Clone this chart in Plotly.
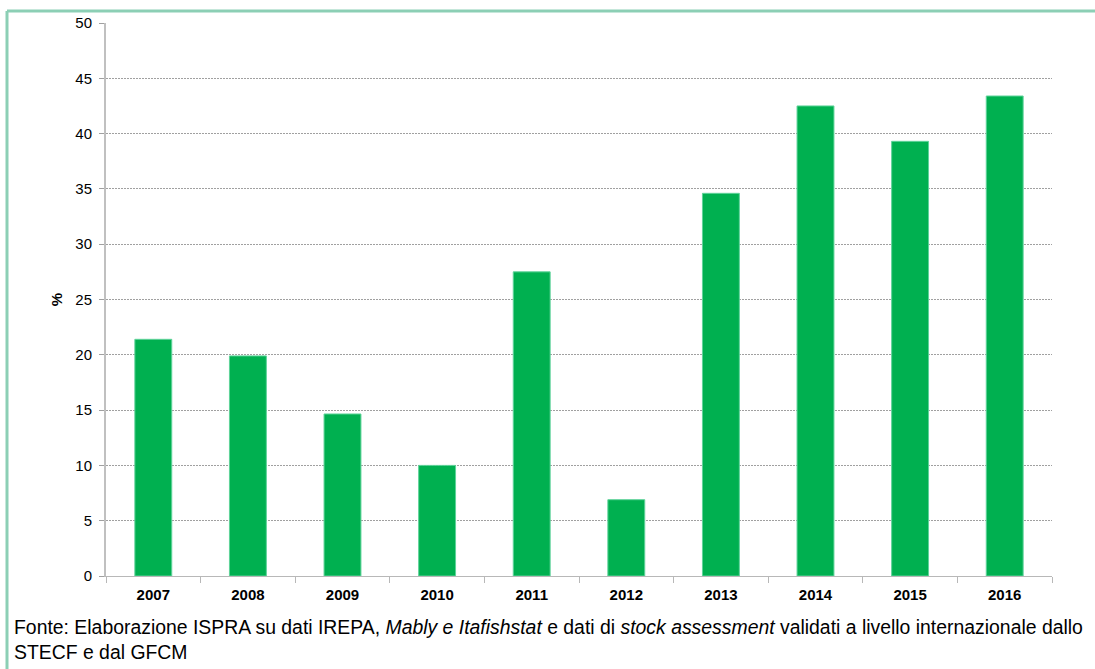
import plotly.graph_objects as go

years = ["2007", "2008", "2009", "2010", "2011", "2012", "2013", "2014", "2015", "2016"]
values = [21.4, 19.9, 14.65, 10.0, 27.5, 6.9, 34.6, 42.5, 39.3, 43.4]
y_ticks = [0, 5, 10, 15, 20, 25, 30, 35, 40, 45, 50]

caption = ("Fonte: Elaborazione ISPRA su dati IREPA, <i>Mably e Itafishstat</i> e dati di "
           "<i>stock assessment</i> validati a livello internazionale dallo<br>STECF e dal GFCM")

W, H = 1095, 669
ml, mr, mt, mb = 106, 43, 23, 93
pw, ph = W - ml - mr, H - mt - mb

def px(x):
    return (x - ml) / pw

def py(y):
    return (H - mb - y) / ph

fig = go.Figure()
fig.add_trace(go.Bar(
    x=years, y=values, width=0.39,
    marker=dict(color="#00b050", line=dict(color="#5fd39a", width=1)),
))

fig.update_layout(
    width=W, height=H,
    margin=dict(l=ml, r=mr, t=mt, b=mb),
    plot_bgcolor="white", paper_bgcolor="white",
    showlegend=False,
    font=dict(family="Liberation Sans, Arial", color="#000000"),
    xaxis=dict(
        type="category", showline=True, linecolor="#b8b8b8", linewidth=1,
        ticks="outside", tickson="boundaries", ticklen=6, tickcolor="#b8b8b8",
        ticklabelstandoff=5,
        tickfont=dict(size=15, color="#000000", family="Liberation Sans, Arial"),
        tickvals=years, ticktext=[f"<b>{y}</b>" for y in years],
        showgrid=False,
    ),
    yaxis=dict(
        range=[0, 50], tickvals=y_ticks, showline=True, linecolor="#c0c0c0", linewidth=2,
        ticks="outside", ticklen=5, tickcolor="#a0a0a0",
        ticklabelstandoff=4,
        tickfont=dict(size=15, color="#000000"),
        showgrid=True, gridcolor="#a0a0a0", griddash="2px,1px", gridwidth=1,
        zeroline=False,
        title=dict(text="<b>%</b>", font=dict(size=15), standoff=9),
    ),
)

fig.add_annotation(
    x=px(12), y=py(614), xref="paper", yref="paper", xanchor="left", yanchor="top",
    text=caption, showarrow=False, align="left",
    font=dict(size=19.4, color="#000000", family="Liberation Sans, Arial"),
)

# frame
fig.add_shape(type="line", xref="paper", yref="paper",
              x0=px(7), x1=px(W + 5), y0=py(11), y1=py(11),
              line=dict(color="#8ccfb5", width=3))
fig.add_shape(type="line", xref="paper", yref="paper",
              x0=px(7), x1=px(7), y0=py(11), y1=py(H + 5),
              line=dict(color="#8ccfb5", width=3))

fig.write_html("out.html", config={"displayModeBar": False},
               post_script="document.body.style.margin='0';")
